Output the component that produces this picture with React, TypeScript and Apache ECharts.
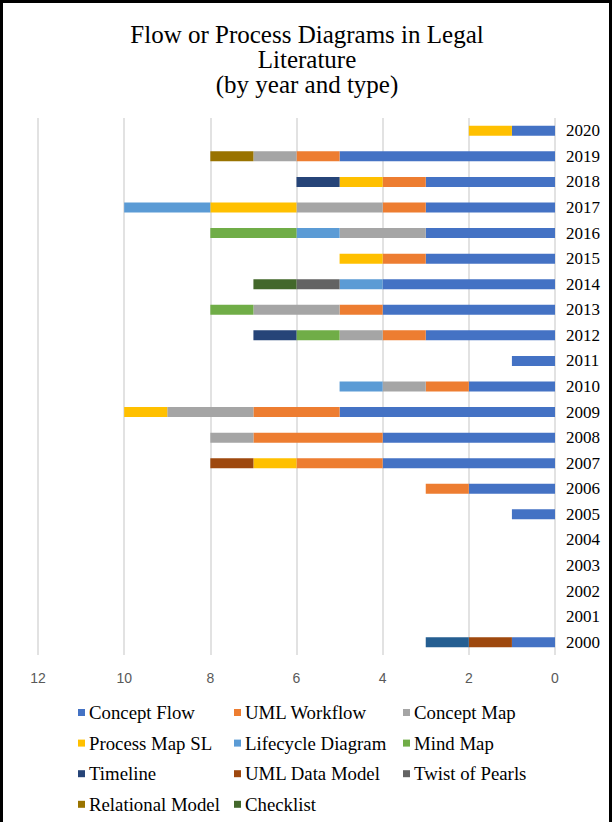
import React, { useEffect, useRef } from "react";
import * as echarts from "echarts";

const years = ["2000","2001","2002","2003","2004","2005","2006","2007","2008","2009","2010","2011","2012","2013","2014","2015","2016","2017","2018","2019","2020"];

// values per year, 2000 -> 2020
const conceptFlow      = [1,0,0,0,0,1,2,4,4,5,2,1,3,4,4,3,3,3,3,5,1];
const umlWorkflow      = [0,0,0,0,0,0,1,2,3,2,1,0,1,1,0,1,0,1,1,1,0];
const conceptMap       = [0,0,0,0,0,0,0,0,1,2,1,0,1,2,0,0,2,2,0,1,0];
const processMapSL     = [0,0,0,0,0,0,0,1,0,1,0,0,0,0,0,1,0,2,1,0,1];
const lifecycleDiagram = [0,0,0,0,0,0,0,0,0,0,1,0,0,0,1,0,1,2,0,0,0];
const mindMap          = [0,0,0,0,0,0,0,0,0,0,0,0,1,1,0,0,2,0,0,0,0];
const timeline         = [0,0,0,0,0,0,0,0,0,0,0,0,1,0,0,0,0,0,1,0,0];
const umlDataModel     = [1,0,0,0,0,0,0,1,0,0,0,0,0,0,0,0,0,0,0,0,0];
const twistOfPearls    = [0,0,0,0,0,0,0,0,0,0,0,0,0,0,1,0,0,0,0,0,0];
const relationalModel  = [0,0,0,0,0,0,0,0,0,0,0,0,0,0,0,0,0,0,0,1,0];
const checklist        = [0,0,0,0,0,0,0,0,0,0,0,0,0,0,1,0,0,0,0,0,0];
const unlisted         = [1,0,0,0,0,0,0,0,0,0,0,0,0,0,0,0,0,0,0,0,0];

const seriesNames = ["Concept Flow","UML Workflow","Concept Map","Process Map SL","Lifecycle Diagram","Mind Map","Timeline","UML Data Model","Twist of Pearls","Relational Model","Checklist","Series 12"];
const seriesData = [conceptFlow, umlWorkflow, conceptMap, processMapSL, lifecycleDiagram, mindMap, timeline, umlDataModel, twistOfPearls, relationalModel, checklist, unlisted];
const colors = ["#4472C4","#ED7D31","#A5A5A5","#FFC000","#5B9BD5","#70AD47","#264478","#9E480E","#636363","#997300","#43682B","#255E91"];

const titleLines = ["Flow or Process Diagrams in Legal", "Literature", "(by year and type)"];

const legendCols = [
  ["Concept Flow","Process Map SL","Timeline","Relational Model"],
  ["UML Workflow","Lifecycle Diagram","UML Data Model","Checklist"],
  ["Concept Map","Mind Map","Twist of Pearls"],
];
const legendLefts = [78, 234, 403];

const SERIF = "'Liberation Serif', 'Times New Roman', serif";

export default function App() {
  const ref = useRef<HTMLDivElement>(null);
  useEffect(() => {
    if (!ref.current) return;
    const chart = echarts.init(ref.current, null, { renderer: "svg" });
    chart.setOption({
      animation: false,
      backgroundColor: "#ffffff",
      color: colors,
      title: titleLines.map((t, i) => ({
        text: t,
        left: "center",
        top: 22 + i * 24.8,
        padding: 0,
        textStyle: { fontFamily: SERIF, fontSize: 25, fontWeight: "normal", color: "#000", lineHeight: 25 },
      })),
      legend: legendCols.map((d, i) => ({
        data: d,
        orient: "vertical",
        left: legendLefts[i],
        top: 703,
        padding: 0,
        itemGap: 11.6,
        itemWidth: 7,
        itemHeight: 7,
        icon: "rect",
        selectedMode: false,
        textStyle: { fontFamily: SERIF, fontSize: 18.8, color: "#000", lineHeight: 18, padding: [0, 0, 0, -1] },
      })),
      grid: { left: 38, right: 59, top: 118, bottom: 167, containLabel: false },
      xAxis: {
        type: "value",
        inverse: true,
        min: 0,
        max: 12,
        interval: 2,
        axisLine: { show: false },
        axisTick: { show: false },
        axisLabel: { color: "#595959", fontFamily: "'Liberation Sans', Arial, sans-serif", fontSize: 14, margin: 16 },
        splitLine: { lineStyle: { color: "#d9d9d9", width: 1.5 } },
      },
      yAxis: {
        type: "category",
        data: years,
        position: "right",
        axisLine: { show: false },
        axisTick: { show: false },
        axisLabel: { color: "#000", fontFamily: SERIF, fontSize: 17, margin: 11 },
      },
      series: seriesNames.map((name, i) => ({
        name,
        type: "bar",
        stack: "total",
        barWidth: 10,
        data: seriesData[i],
        itemStyle: { color: colors[i] },
      })),
    });
    return () => chart.dispose();
  }, []);
  return (
    <div style={{ position: "fixed", left: 0, top: 0, width: 614, height: 822, background: "#fff" }}>
      <div ref={ref} style={{ position: "absolute", left: 0, top: 0, width: 614, height: 822 }} />
      <div style={{ position: "absolute", left: 0, top: 0, width: 612, height: 822, boxSizing: "border-box", borderLeft: "3px solid #000", borderTop: "3px solid #000", borderRight: "3px solid #000", pointerEvents: "none" }} />
    </div>
  );
}
